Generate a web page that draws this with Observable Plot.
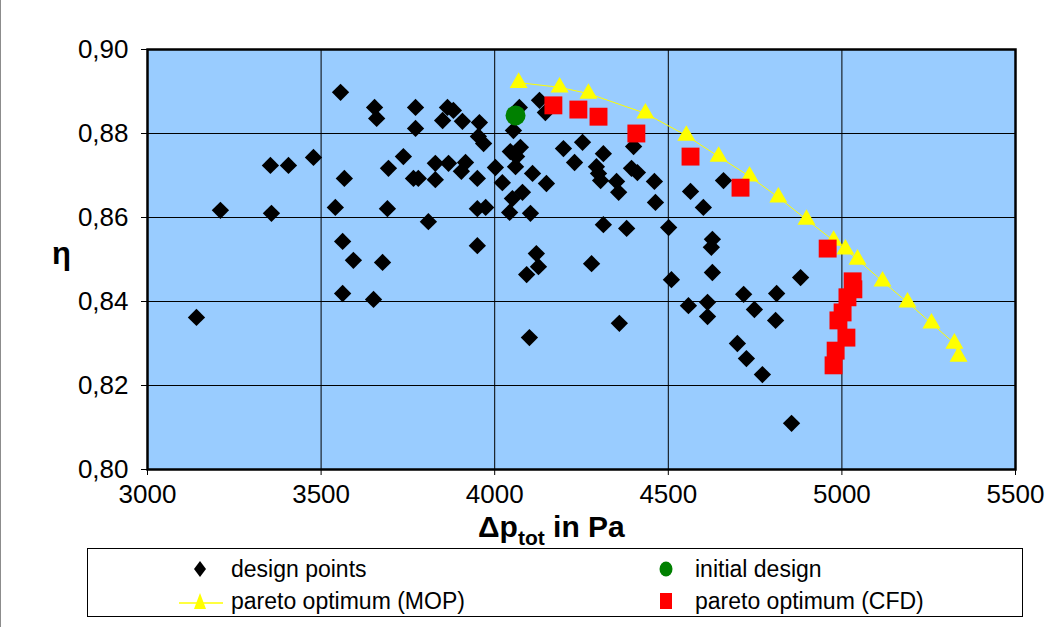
<!DOCTYPE html>
<html>
<head>
<meta charset="utf-8">
<script src="https://cdn.jsdelivr.net/npm/d3@7"></script>
<script src="https://cdn.jsdelivr.net/npm/@observablehq/plot@0.6"></script>
<style>
  html, body { margin: 0; padding: 0; background: #fff; }
  #wrap { position: relative; width: 1059px; height: 627px; box-sizing: border-box; border-left: 1px solid #8c8c8c; overflow: hidden; font-family: "Liberation Sans", Arial, sans-serif; }
  #chart { position: absolute; left: -1px; top: 0px; }
  .lbl { position: absolute; font-weight: bold; color: #000; white-space: nowrap; }
  #legend { position: absolute; left: 86px; top: 548px; width: 936px; height: 69px; box-sizing: border-box; border: 1px solid #000; background: #fff; }
  .li { position: absolute; font-size: 23px; color: #000; white-space: nowrap; line-height: 1; }
  .lm { position: absolute; }
</style>
</head>
<body>
<div id="wrap">
  <div id="chart"></div>
  <div class="lbl" style="left:51px; top:236px; font-size:31px;">η</div>
  <div class="lbl" style="left:477px; top:510px; font-size:30px;">Δp<sub style="font-size:21px; position:relative; top:2px; vertical-align:-6px;">tot</sub> in Pa</div>
  <div id="legend"></div>
</div>
<script>
// ---- data ----
const xTicks = [3000, 3500, 4000, 4500, 5000, 5500];
const yTicks = [0.80, 0.82, 0.84, 0.86, 0.88, 0.90];

const designX = [3141,3210,3354,3406,3478,3357,3556,3567,3541,3562,3562,3593,3654,3660,3694,3737,3691,3677,3651,3772,
  3772,3766,3780,3809,3829,3867,3829,3864,3881,3850,3907,3956,3916,3904,3953,3968,3950,3950,3974,3950,
  4054,4071,4129,4146,4045,4074,4063,4002,4060,4109,4149,4022,4080,4051,4043,4103,4120,4126,4092,4100,
  4198,4253,4230,4313,4293,4299,4305,4351,4357,4400,4394,4411,4460,4463,4313,4380,4501,4279,4359,4564,
  4601,4659,4627,4624,4627,4509,4558,4613,4613,4717,4748,4812,4809,4881,4699,4725,4771,4855];
const designY = [0.8362,0.8617,0.8724,0.8724,0.8743,0.8610,0.8898,0.8693,0.8624,0.8543,0.8419,0.8498,0.8862,0.8836,0.8717,0.8745,0.8621,0.8493,0.8405,0.8862,
  0.8812,0.8693,0.8693,0.8590,0.8729,0.8729,0.8690,0.8862,0.8855,0.8831,0.8829,0.8826,0.8731,0.8710,0.8793,0.8776,0.8693,0.8621,0.8624,0.8533,
  0.8807,0.8862,0.8879,0.8850,0.8757,0.8767,0.8745,0.8719,0.8721,0.8705,0.8681,0.8683,0.8660,0.8645,0.8612,0.8610,0.8514,0.8483,0.8464,0.8314,
  0.8764,0.8779,0.8731,0.8752,0.8721,0.8705,0.8688,0.8686,0.8660,0.8769,0.8717,0.8707,0.8686,0.8636,0.8583,0.8574,0.8576,0.8490,0.8348,0.8662,
  0.8624,0.8688,0.8548,0.8529,0.8469,0.8452,0.8390,0.8398,0.8364,0.8417,0.8381,0.8419,0.8355,0.8457,0.8300,0.8264,0.8226,0.8110];

const initialX = [4060];
const initialY = [0.8843];

const mopX = [4069,4187,4270,4434,4552,4645,4734,4817,4898,4976,5010,5045,5117,5189,5258,5324,5336];
const mopY = [0.8921,0.8910,0.8895,0.8848,0.8795,0.8745,0.8698,0.8648,0.8595,0.8545,0.8524,0.8500,0.8448,0.8398,0.8348,0.8300,0.8269];

const cfdX = [4169,4241,4299,4408,4564,4708,4959,5031,5033,5016,5002,4990,5013,4982,4976];
const cfdY = [0.8867,0.8857,0.8840,0.8800,0.8745,0.8671,0.8526,0.8448,0.8429,0.8410,0.8374,0.8355,0.8314,0.8283,0.8248];

const legendItems = ["design points", "initial design", "pareto optimum (MOP)", "pareto optimum (CFD)"];

// ---- build tables ----
const zip = (xs, ys) => xs.map((x, i) => ({x, y: ys[i]}));
const design = zip(designX, designY);
const initial = zip(initialX, initialY);
const mop = zip(mopX, mopY);
const cfd = zip(cfdX, cfdY);

const chart = Plot.plot({
  width: 1059,
  height: 545,
  marginLeft: 147,
  marginRight: 44,
  marginTop: 49,
  marginBottom: 76,
  style: {fontFamily: "'Liberation Sans', Arial, sans-serif", fontSize: "26px", color: "#000", background: "transparent", overflow: "visible"},
  x: {domain: [3000, 5500]},
  y: {domain: [0.80, 0.90]},
  marks: [
    Plot.frame({fill: "#99CCFF"}),
    Plot.gridX(xTicks, {stroke: "#000", strokeOpacity: 1, strokeWidth: 1}),
    Plot.gridY(yTicks, {stroke: "#000", strokeOpacity: 1, strokeWidth: 1}),
    Plot.axisX({ticks: xTicks, tickSize: 6, tickPadding: 9, label: null, tickFormat: d => String(d)}),
    Plot.axisY({ticks: yTicks, tickSize: 6, tickPadding: 13, label: null, tickFormat: d => d.toFixed(2).replace(".", ",")}),
    Plot.dot(design, {x: "x", y: "y", symbol: "diamond2", fill: "#000", stroke: "none", r: 7.8}),
    Plot.dot(initial, {x: "x", y: "y", symbol: "circle", fill: "#008000", stroke: "none", r: 10}),
    Plot.line(mop, {x: "x", y: "y", stroke: "#FFFF00", strokeWidth: 1}),
    Plot.dot(mop, {x: "x", y: "y", symbol: "triangle2", fill: "#FFFF00", stroke: "none", r: 8.6}),
    Plot.dot(cfd, {x: "x", y: "y", symbol: "square2", fill: "#FF0000", stroke: "none", r: 11.4}),
    Plot.frame({stroke: "#000", strokeWidth: 2.5})
  ]
});
document.getElementById("chart").appendChild(chart);

// ---- legend ----
const legend = document.getElementById("legend");
const markers = [
  `<svg width="20" height="20"><polygon points="10,2 16,10 10,18 4,10" fill="#000"/></svg>`,
  `<svg width="20" height="20"><ellipse cx="10" cy="10" rx="6.5" ry="7.5" fill="#008000"/></svg>`,
  `<svg width="46" height="20"><line x1="1" y1="12" x2="45" y2="12" stroke="#FFFF00" stroke-width="1.5"/><polygon points="22,2 28,18 16,18" fill="#FFFF00"/></svg>`,
  `<svg width="20" height="20"><rect x="4" y="2" width="12" height="16" fill="#FF0000"/></svg>`
];
const pos = [
  {mx: 102, my: 10, tx: 143, ty: 9},
  {mx: 568, my: 10, tx: 607, ty: 9},
  {mx: 90, my: 42, tx: 143, ty: 41},
  {mx: 568, my: 42, tx: 607, ty: 41}
];
legendItems.forEach((t, i) => {
  const m = document.createElement("div");
  m.className = "lm";
  m.style.left = pos[i].mx + "px";
  m.style.top = pos[i].my + "px";
  m.innerHTML = markers[i];
  legend.appendChild(m);
  const s = document.createElement("div");
  s.className = "li";
  s.style.left = pos[i].tx + "px";
  s.style.top = pos[i].ty + "px";
  s.textContent = t;
  legend.appendChild(s);
});
</script>
</body>
</html>
